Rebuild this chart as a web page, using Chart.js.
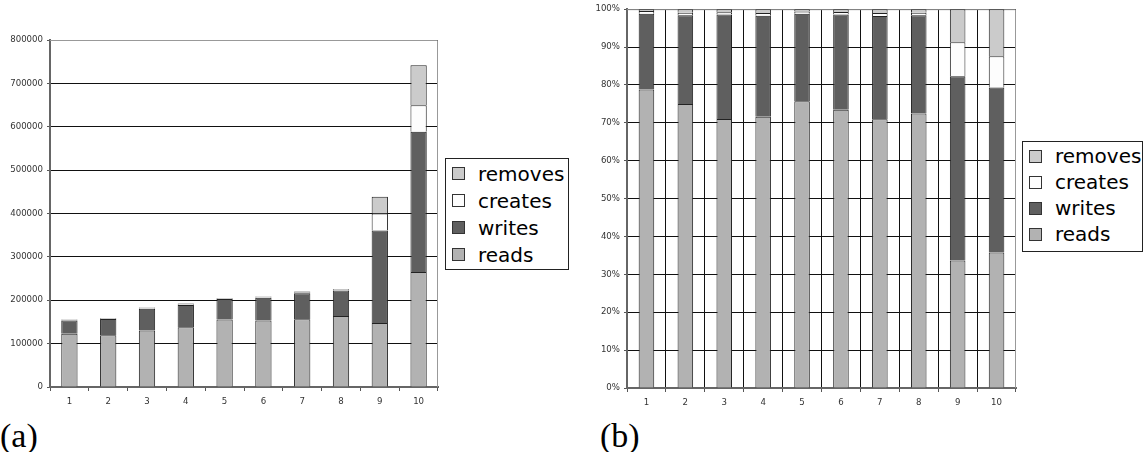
<!DOCTYPE html>
<html>
<head>
<meta charset="utf-8">
<script src="https://cdn.jsdelivr.net/npm/chart.js@4/dist/chart.umd.min.js"></script>
<style>
    body { margin: 0; width: 1143px; height: 452px; background: #fff; position: relative; overflow: hidden; font-family: "DejaVu Sans", sans-serif; }
    .wrap { position: absolute; top: 0; width: 445px; height: 410px; }
    #wrapA { left: 0; }
    #wrapB { left: 577px; }
    .legend { position: absolute; border: 1px solid #222; background: #fff; font-size: 20px; color: #000; box-sizing: border-box; padding-top: 1px; }
    .legend .row { display: flex; align-items: center; height: 27px; }
    .legend .sw { width: 11px; height: 11px; border: 1px solid #333; margin-left: 6px; margin-right: 13px; }
    #legendA { left: 445px; top: 158px; width: 124px; height: 112px; }
    #legendB { left: 1022px; top: 141px; width: 121px; height: 111px; }
    #legendB .row { height: 26px; }
    .caption { position: absolute; top: 419px; font-family: "Liberation Serif", serif; font-size: 34px; line-height: 34px; }
</style>
</head>
<body>
<div class="wrap" id="wrapA"><canvas id="chartA"></canvas></div>
<div class="wrap" id="wrapB"><canvas id="chartB"></canvas></div>
<div class="legend" id="legendA"></div>
<div class="legend" id="legendB"></div>
<div class="caption" style="left:0px">(a)</div>
<div class="caption" style="left:600px">(b)</div>
<script>
// data (operation counts per run)
const categories = ['1', '2', '3', '4', '5', '6', '7', '8', '9', '10'];
const reads   = [122500, 119300, 130100, 137700, 155500, 153200, 156200, 163900, 147700, 265400];
const writes  = [31100, 37300, 50500, 51400, 47400, 52500, 59900, 58700, 213200, 323100];
const creates = [1100, 1100, 1100, 1300, 1200, 1300, 1700, 1500, 39300, 60900];
const removes = [800, 1500, 1500, 2000, 1300, 1600, 2300, 2100, 38300, 92300];
const countTicks = [0, 100000, 200000, 300000, 400000, 500000, 600000, 700000, 800000];
const percentTicks = [0, 10, 20, 30, 40, 50, 60, 70, 80, 90, 100];

const series = [
    { label: 'reads', data: reads, color: '#b2b2b2' },
    { label: 'writes', data: writes, color: '#5f5f5f' },
    { label: 'creates', data: creates, color: '#fdfdfd' },
    { label: 'removes', data: removes, color: '#cbcbcb' }
];

const totals = categories.map((c, i) => reads[i] + writes[i] + creates[i] + removes[i]);
const tickFont = { family: 'DejaVu Sans', size: 8.6 };

// gray frame on top and right of the plot area, under the bars
const framePlugin = {
    id: 'frame',
    beforeDatasetsDraw(chart) {
        const { ctx, chartArea: a } = chart;
        ctx.save();
        ctx.strokeStyle = '#999';
        ctx.lineWidth = 1;
        ctx.beginPath();
        ctx.moveTo(a.left, a.top + 0.5);
        ctx.lineTo(a.right - 0.5, a.top + 0.5);
        ctx.lineTo(a.right - 0.5, a.bottom);
        ctx.stroke();
        ctx.restore();
    }
};

function makeDatasets(percent) {
    return series.map(s => ({
        label: s.label,
        data: percent ? s.data.map((v, i) => v / totals[i] * 100) : s.data,
        backgroundColor: s.color,
        borderColor: '#222',
        borderWidth: 1,
        categoryPercentage: 1,
        barPercentage: percent ? 0.4 : 0.42
    }));
}

function makeChart(id, percent, tickValues) {
    const max = tickValues[tickValues.length - 1];
    return new Chart(document.getElementById(id), {
        type: 'bar',
        data: { labels: categories, datasets: makeDatasets(percent) },
        plugins: [framePlugin],
        options: {
            responsive: true,
            maintainAspectRatio: false,
            animation: false,
            layout: { padding: { top: percent ? 8 : 40, right: percent ? 6 : 7, left: 0, bottom: 0 } },
            plugins: { legend: { display: false }, tooltip: { enabled: false } },
            scales: {
                x: {
                    stacked: true,
                    afterFit: s => { s.height = percent ? 22 : 23; },
                    border: { color: '#666', width: 2 },
                    grid: {
                        offset: true,
                        drawOnChartArea: percent,
                        color: c => c.type === 'tick' ? '#111' : '#999',
                        tickColor: '#555',
                        tickLength: 4
                    },
                    ticks: { color: '#333', font: tickFont, padding: 6, maxRotation: 0 }
                },
                y: {
                    stacked: true,
                    min: 0,
                    max: max,
                    afterFit: s => { s.width = 50; },
                    afterBuildTicks: s => { s.ticks = tickValues.map(v => ({ value: v })); },
                    border: { color: '#666', width: 2 },
                    grid: { color: '#111', tickColor: '#555', tickLength: 3 },
                    ticks: {
                        color: '#333',
                        font: tickFont,
                        padding: 4,
                        callback: v => percent ? v + '%' : String(v)
                    }
                }
            }
        }
    });
}

makeChart('chartA', false, countTicks);
makeChart('chartB', true, percentTicks);

// legends, top to bottom in reverse stack order
['legendA', 'legendB'].forEach(id => {
    const box = document.getElementById(id);
    series.slice().reverse().forEach(s => {
        const row = document.createElement('div');
        row.className = 'row';
        row.innerHTML = '<span class="sw" style="background:' + s.color + '"></span><span>' + s.label + '</span>';
        box.appendChild(row);
    });
});
</script>
</body>
</html>
